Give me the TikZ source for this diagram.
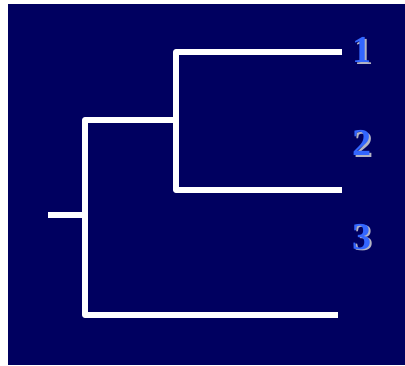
\documentclass[tikz,border=0pt]{standalone}
\usepackage{fontspec}
\setmainfont{Liberation Serif}
\definecolor{navy}{RGB}{0,0,96}
\definecolor{lblue}{RGB}{51,102,255}
\definecolor{shade}{RGB}{180,180,195}
\begin{document}
\begin{tikzpicture}[x=1pt,y=-1pt,
  branch/.style={draw=white,line width=6.5pt,line join=round,line cap=butt},
  lbl/.style={font=\fontsize{38}{38}\selectfont\bfseries,text=lblue,inner sep=0pt},
  lblsh/.style={font=\fontsize{38}{38}\selectfont\bfseries,text=shade,inner sep=0pt}]
\useasboundingbox[fill=white] (0,0) rectangle (405,365);
\fill[navy] (8,4) rectangle (405,365);
% tree coordinates
\coordinate (root) at (48,215);
\coordinate (n0) at (85,215);
\coordinate (n1) at (176,120);
\coordinate (t1) at (342,52);
\coordinate (t2) at (342,190);
\coordinate (t3) at (338,315);
% branches
\draw[branch] (root) -- (n0);
\draw[branch] (t1) -- (t1 -| n1) -- (t2 -| n1) -- (t2);
\draw[branch] (n1) -- (n0 |- n1) -- (n0 |- t3) -- (t3);
% labels
\node[lblsh] (s1) at (363.5,51.5) {1};
\node[lbl] (l1) at (362,50) {1};
\node[lblsh] (s2) at (363.5,144.5) {2};
\node[lbl] (l2) at (362,143) {2};
\node[lblsh] (s3) at (363.5,238.5) {3};
\node[lbl] (l3) at (362,237) {3};
\end{tikzpicture}
\end{document}
